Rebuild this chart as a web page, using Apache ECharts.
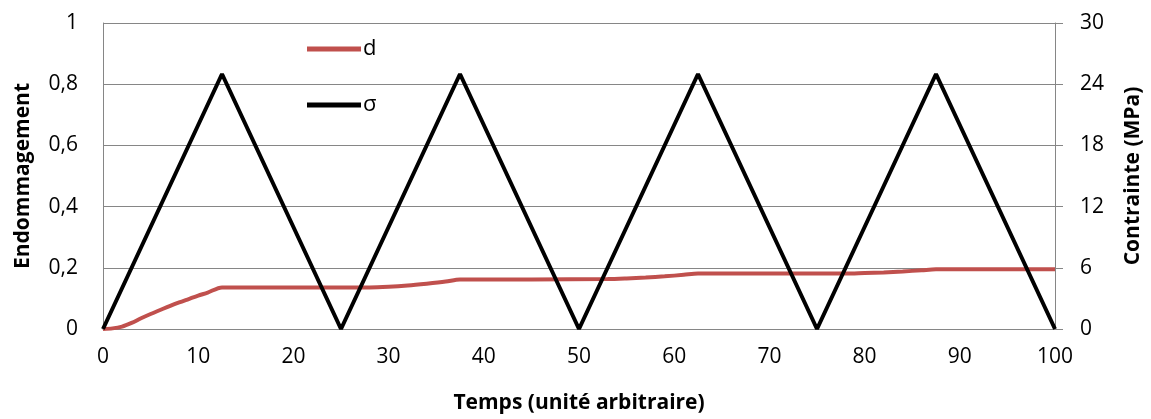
<!DOCTYPE html>
<html>
<head>
<meta charset="utf-8">
<script src="https://cdn.jsdelivr.net/npm/echarts@6/dist/echarts.min.js"></script>
<style>
html,body{margin:0;padding:0;background:#fff;}
#chart{width:1151px;height:419px;}
</style>
</head>
<body>
<div id="chart"></div>
<script>
// Damage d (left axis)
const timeD = [0, 1, 2, 3, 4, 5, 6, 7, 8, 9, 10, 11, 12.5, 20, 28, 30, 32, 34, 36, 37.5, 45, 53, 55, 57, 59, 61, 62.5, 70, 78, 80, 82, 84, 86, 87.5, 100];
const damage = [0, 0.002, 0.008, 0.02, 0.035, 0.049, 0.062, 0.075, 0.087, 0.098, 0.109, 0.119, 0.136, 0.136, 0.136, 0.138, 0.142, 0.148, 0.155, 0.162, 0.162, 0.163, 0.165, 0.168, 0.172, 0.177, 0.181, 0.181, 0.181, 0.183, 0.185, 0.188, 0.192, 0.195, 0.195];
// Stress sigma (right axis, MPa)
const timeS = [0, 12.5, 25, 37.5, 50, 62.5, 75, 87.5, 100];
const stress = [0, 25, 0, 25, 0, 25, 0, 25, 0];

const xTicks = {min: 0, max: 100, interval: 10};
const leftTicks = {min: 0, max: 1, interval: 0.2};
const rightTicks = {min: 0, max: 30, interval: 6};

const font = '"Open Sans", sans-serif';
const gray = '#868686';

const chart = echarts.init(document.getElementById('chart'));
chart.setOption({
  animation: false,
  grid: {left: 103, right: 96, top: 23, bottom: 90, outerBoundsMode: 'none', containLabel: false},
  legend: {
    orient: 'vertical',
    left: 302,
    top: 33,
    itemWidth: 54,
    itemHeight: 5,
    itemGap: 34,
    icon: 'rect',
    textStyle: {fontFamily: font, fontSize: 22, color: '#000', padding: [0, 0, 0, -3]},
    data: ['d', 'σ']
  },
  xAxis: {
    type: 'value',
    min: xTicks.min, max: xTicks.max, interval: xTicks.interval,
    name: 'Temps (unité arbitraire)',
    nameLocation: 'middle',
    nameGap: 64,
    nameTextStyle: {fontFamily: font, fontSize: 21, fontWeight: 'bold', color: '#000'},
    axisLine: {show: true, lineStyle: {color: gray, width: 1}},
    axisTick: {show: false},
    splitLine: {show: false},
    axisLabel: {fontFamily: font, fontSize: 21, color: '#000', margin: 18}
  },
  yAxis: [{
    type: 'value',
    min: leftTicks.min, max: leftTicks.max, interval: leftTicks.interval,
    name: 'Endommagement',
    nameLocation: 'middle',
    nameGap: 69,
    nameTextStyle: {fontFamily: font, fontSize: 21, fontWeight: 'bold', color: '#000'},
    axisLine: {show: true, lineStyle: {color: gray, width: 1}},
    axisTick: {show: false},
    splitLine: {show: true, lineStyle: {color: gray, width: 1}},
    axisLabel: {fontFamily: font, fontSize: 21, color: '#000', margin: 25,
      formatter: v => String(Math.round(v * 10) / 10).replace('.', ',')}
  }, {
    type: 'value',
    position: 'right',
    min: rightTicks.min, max: rightTicks.max, interval: rightTicks.interval,
    name: 'Contrainte (MPa)',
    nameLocation: 'middle',
    nameGap: 68,
    nameTextStyle: {fontFamily: font, fontSize: 21, fontWeight: 'bold', color: '#000'},
    axisLine: {show: true, lineStyle: {color: gray, width: 1}},
    axisTick: {show: true, length: 8, lineStyle: {color: gray, width: 1}},
    splitLine: {show: false},
    axisLabel: {fontFamily: font, fontSize: 21, color: '#000', margin: 25}
  }],
  series: [{
    name: 'd',
    type: 'line',
    yAxisIndex: 0,
    symbol: 'none',
    smooth: 0.3,
    color: '#C0504D',
    lineStyle: {color: '#C0504D', width: 4},
    data: timeD.map((t, i) => [t, damage[i]]),
    z: 2
  }, {
    name: 'σ',
    type: 'line',
    yAxisIndex: 1,
    symbol: 'none',
    color: '#000',
    lineStyle: {color: '#000', width: 4},
    data: timeS.map((t, i) => [t, stress[i]]),
    z: 3
  }]
});
</script>
</body>
</html>
